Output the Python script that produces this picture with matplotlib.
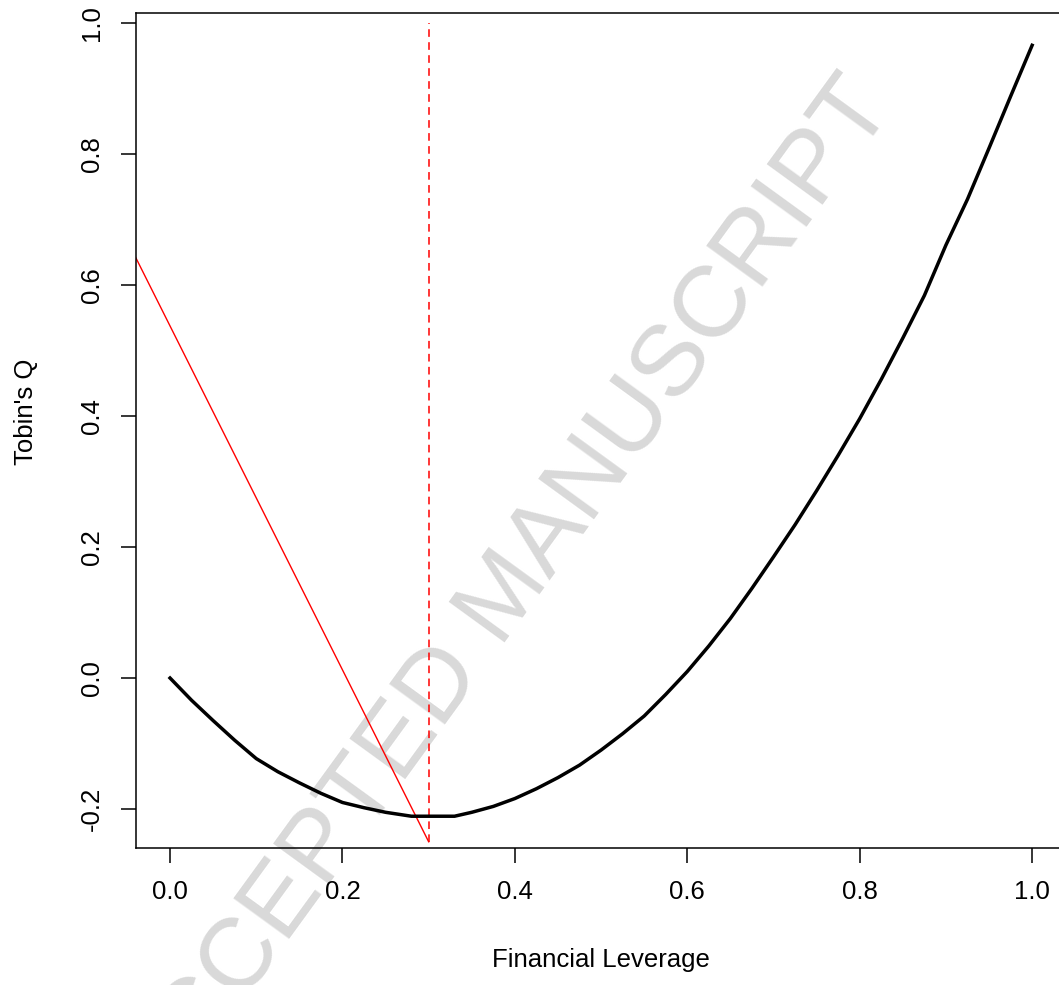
import matplotlib
matplotlib.use('Agg')
import matplotlib.pyplot as plt

plt.rcParams['font.family'] = ['Liberation Sans', 'DejaVu Sans']

# fitted curve: Tobin's Q against financial leverage
leverage = [0.000, 0.025, 0.050, 0.075, 0.100, 0.125, 0.150, 0.175, 0.200,
            0.225, 0.250, 0.280, 0.330, 0.350, 0.375, 0.400, 0.425, 0.450,
            0.475, 0.500, 0.525, 0.550, 0.575, 0.600, 0.625, 0.650, 0.675,
            0.700, 0.725, 0.750, 0.775, 0.800, 0.825, 0.850, 0.875, 0.900,
            0.925, 0.950, 0.975, 1.000]
tobins_q = [0.000, -0.034, -0.065, -0.095, -0.123, -0.143, -0.160, -0.176,
            -0.190, -0.198, -0.205, -0.211, -0.211, -0.205, -0.196, -0.184,
            -0.169, -0.152, -0.133, -0.110, -0.085, -0.058, -0.025, 0.010,
            0.049, 0.091, 0.137, 0.185, 0.234, 0.286, 0.340, 0.396, 0.456,
            0.519, 0.584, 0.661, 0.731, 0.809, 0.888, 0.966]

# red reference lines
tangent_x = [-0.10, 0.30]
tangent_y = [0.80, -0.25]
turn_x = [0.30, 0.30]
turn_y = [-0.25, 1.00]

xticks = [0.0, 0.2, 0.4, 0.6, 0.8, 1.0]
yticks = [-0.2, 0.0, 0.2, 0.4, 0.6, 0.8, 1.0]

FIG = plt.figure(figsize=(10.59, 9.85), dpi=100)
AX = FIG.add_axes([0.1280, 0.13909, 0.8792, 0.8477])
AX.set_facecolor('none')

# watermark behind everything
FIG.text(0.498, 0.378, 'ACCEPTED MANUSCRIPT', fontsize=73, color='#d9d9d9',
         rotation=54, rotation_mode='anchor', ha='center', va='baseline',
         zorder=-1)

AX.plot(leverage, tobins_q, color='black', lw=2.5, solid_joinstyle='round',
        zorder=3)
AX.plot(tangent_x, tangent_y, color='red', lw=1.0, zorder=2)
AX.plot(turn_x, turn_y, color='red', lw=1.1, linestyle=(0, (5, 3.5)), zorder=2)

AX.set_xlim(-0.04, 1.04)
AX.set_ylim(-0.2595, 1.0153)
AX.set_xticks(xticks)
AX.set_yticks(yticks)
AX.set_xticklabels(['%.1f' % v for v in xticks])
AX.set_yticklabels(['%.1f' % v for v in yticks], rotation=90, va='center')

for s in AX.spines.values():
    s.set_linewidth(1.1)
AX.tick_params(axis='both', direction='out', length=10.8, width=1.1,
               labelsize=18.5)
AX.tick_params(axis='x', pad=12)
AX.tick_params(axis='y', pad=12)

AX.set_xlabel('Financial Leverage', fontsize=18.5)
AX.set_ylabel("Tobin's Q", fontsize=18.5)
AX.xaxis.set_label_coords(0.5, -0.1198)
AX.yaxis.set_label_coords(-0.1047, 0.522)

FIG.savefig('out.png', dpi=100)
